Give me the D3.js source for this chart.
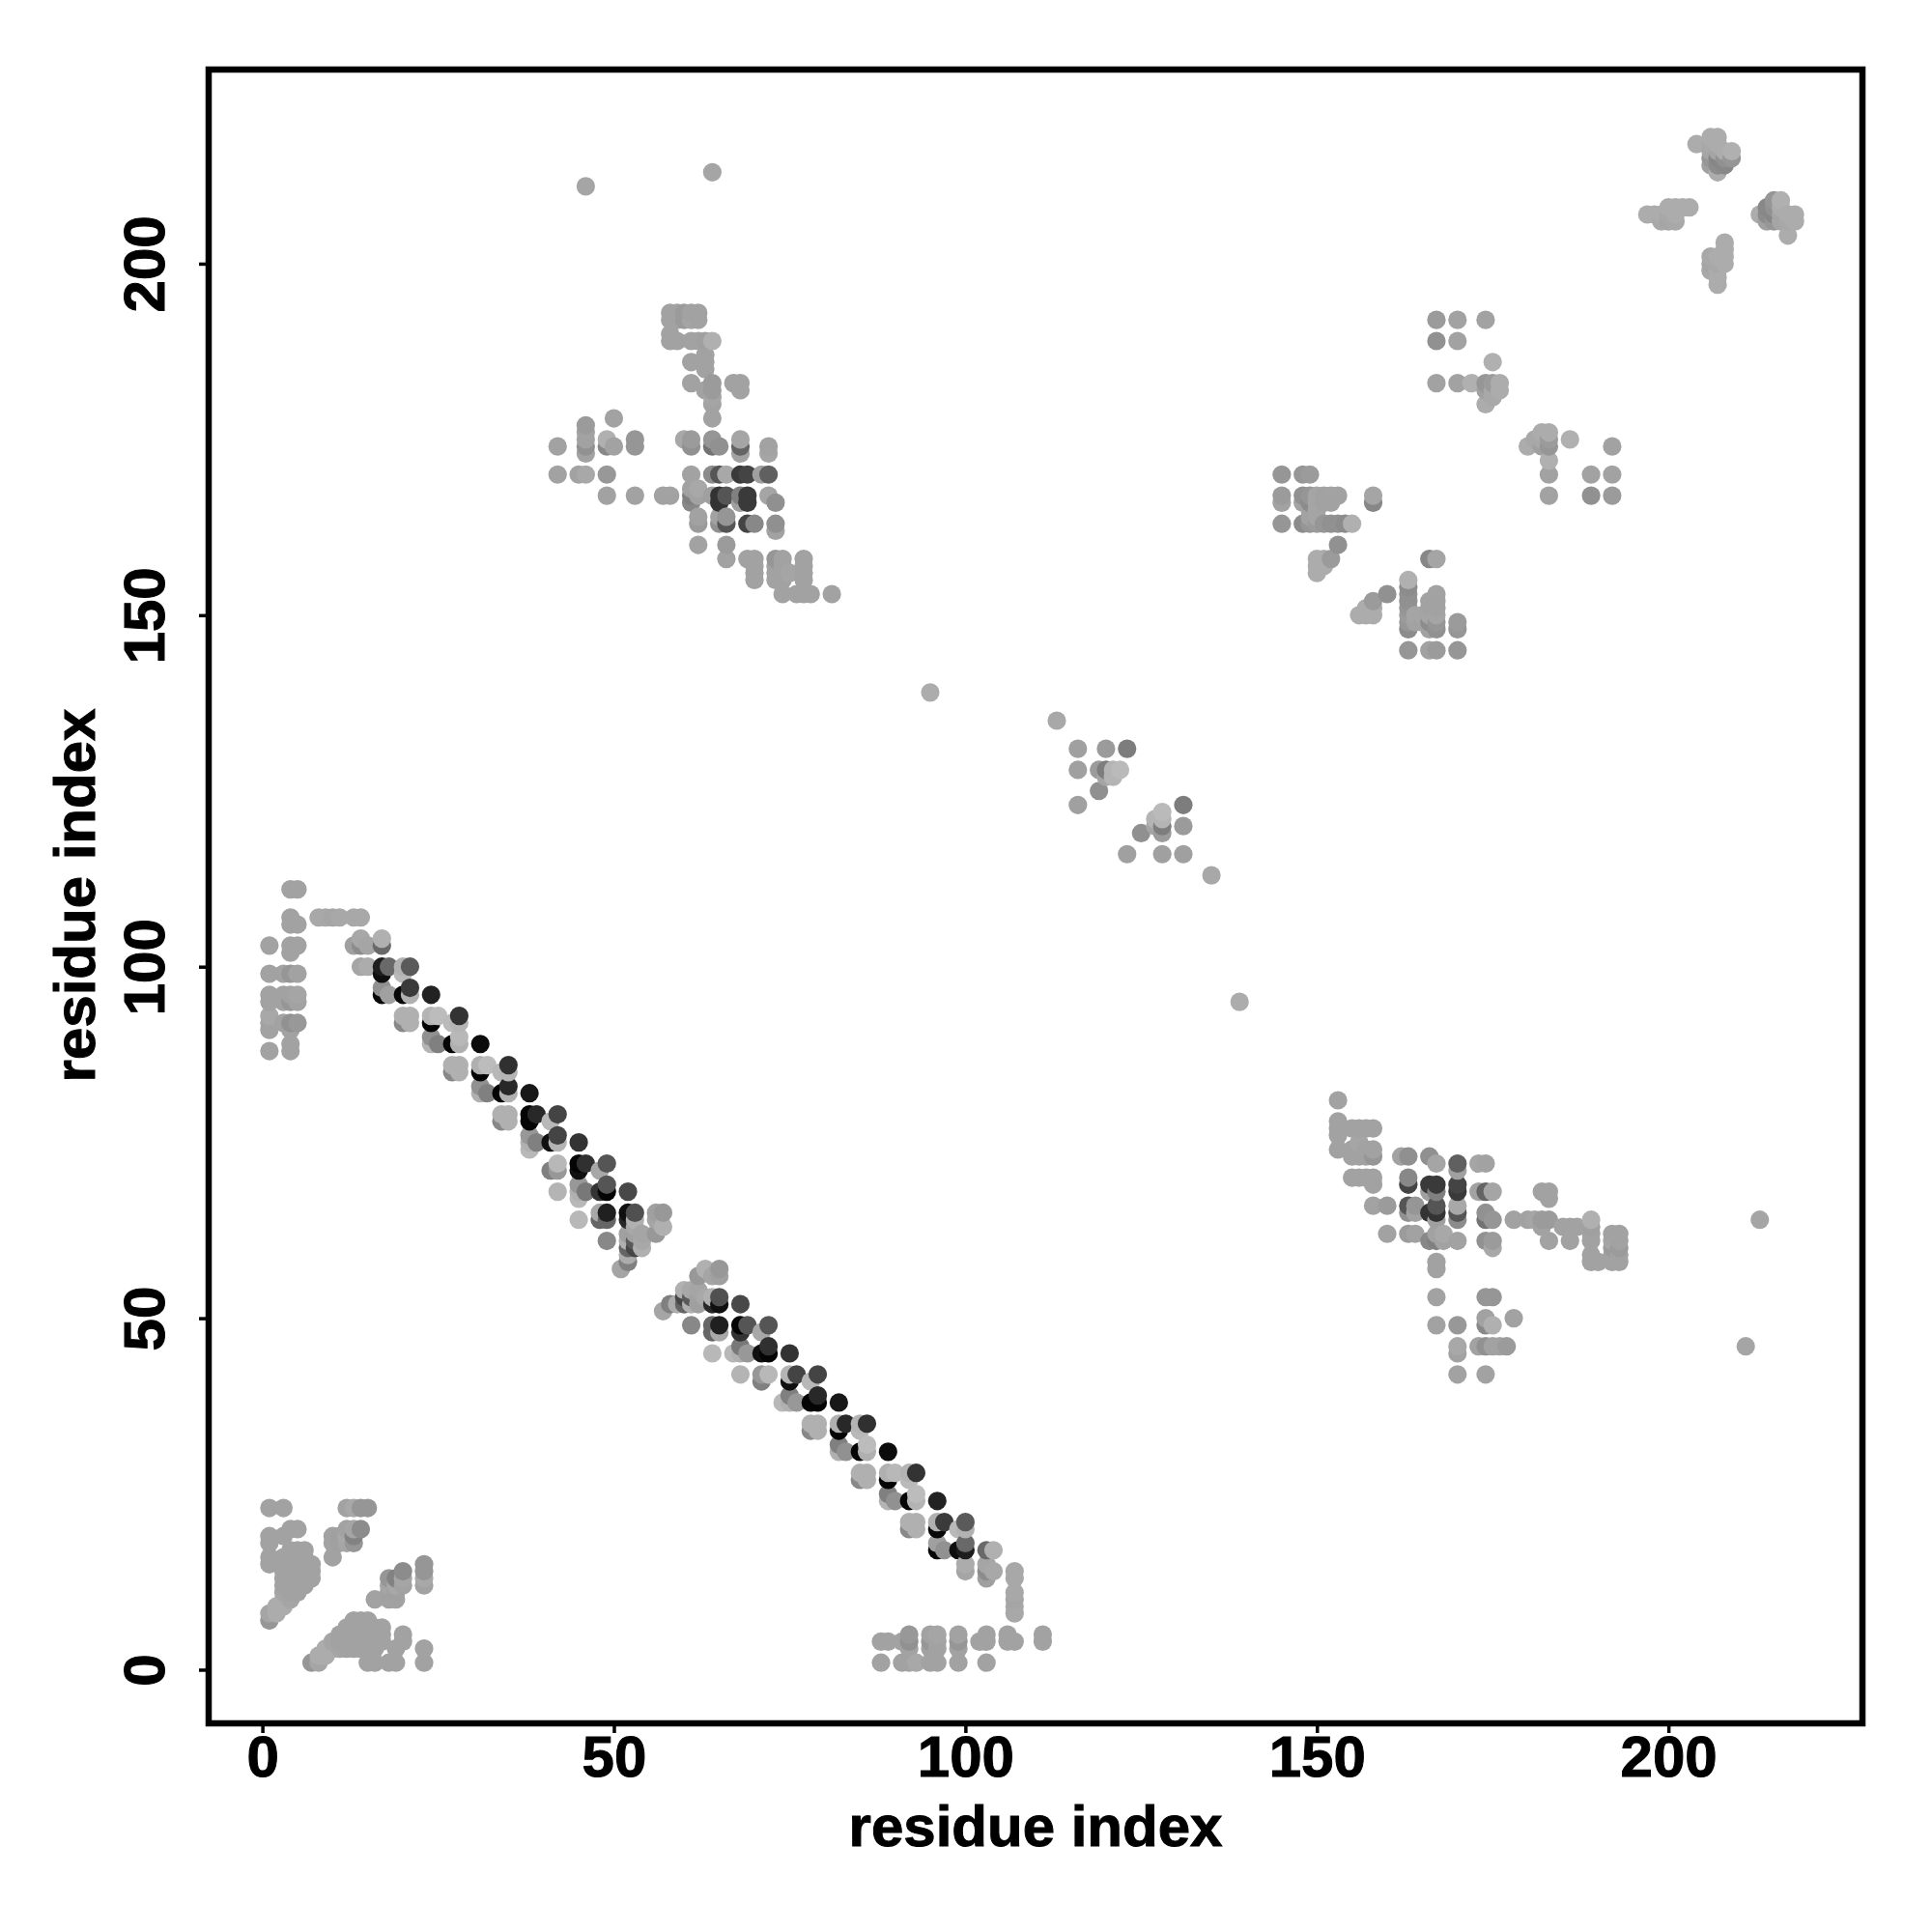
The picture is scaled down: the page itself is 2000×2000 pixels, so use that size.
<!DOCTYPE html>
<html>
<head>
<meta charset="utf-8">
<script src="https://cdn.jsdelivr.net/npm/d3@7"></script>
<style>html,body{margin:0;padding:0;background:#fff}svg{display:block}</style>
</head>
<body>
<svg id="chart" width="2000" height="2000"></svg>
<script>
// Contacts are [residue i, residue j, grey level]; the map is symmetric so each pair is listed once (i < j).
const tickLabels = [0, 50, 100, 150, 200];
const axisTitle = "residue index";
const G = 162;

const nTerminal = [
 [1,7,150],[1,8,165],[1,15,G],[1,16,G],[1,18,G],[1,19,G],[1,23,G],[2,8,172],[2,9,172],
 [3,9,172],[3,10,172],[3,11,165],[3,12,G],[3,13,G],[3,14,G],[3,15,G],[3,16,G],[3,19,G],[3,23,G],
 [4,10,165],[4,11,G],[4,12,G],[4,13,G],[4,14,G],[4,15,G],[4,16,G],[4,17,G],[4,20,G],
 [5,11,G],[5,12,G],[5,13,G],[5,14,G],[5,15,G],[5,16,G],[5,17,G],[5,20,G],
 [6,12,G],[6,13,G],[6,14,G],[6,15,G],[6,16,G],[6,17,G],[7,13,G],[7,14,G],[7,15,G],
 [10,16,G],[10,18,G],[10,19,G],[11,18,160],[11,19,160],[12,18,165],[12,19,168],[12,20,G],
 [12,23,G],[13,18,150],[13,19,130],[13,20,165],[13,23,168],[14,20,140],[14,23,150],[15,23,150]
];
const leftColumn = [
 [1,88,G],[1,91,G],[1,92,G],[1,93,168],[1,95,G],[1,96,G],[1,99,G],[1,103,G],
 [3,92,G],[3,95,G],[3,96,G],[3,99,G],
 [4,88,G],[4,89,G],[4,91,G],[4,92,145],[4,95,150],[4,96,G],[4,99,150],[4,102,G],[4,103,G],[4,106,G],[4,107,G],[4,111,G],
 [5,92,152],[5,95,G],[5,96,165],[5,99,G],[5,103,G],[5,106,G],[5,111,G],
 [8,107,168],[9,107,168],[10,107,165],[11,107,168],[13,107,168],[14,107,168]
];
const helixBand = [
 [14,104,168],[17,104,176],[13,103,160],[14,103,140],[15,103,165],[17,103,105],
 [14,100,165],[15,100,172],[17,100,30],[18,100,105],[20,100,178],[21,100,90],
 [17,99,15],[20,99,185],[17,97,145],[21,97,58],
 [17,96,8],[18,96,160],[20,96,8],[21,96,176],[24,96,34],
 [20,93,176],[21,93,176],[24,93,180],[25,93,188],[28,93,51],
 [20,92,136],[21,92,176],[24,92,5],[27,92,186],[28,92,180],
 [24,90,145],[28,90,184],[24,89,180],[25,89,128],[27,89,5],[28,89,176],[31,89,12],
 [27,86,176],[28,86,176],[31,86,176],[32,86,188],[35,86,48],
 [27,85,136],[28,85,176],[31,85,5],[34,85,184],[35,85,180],
 [31,83,145],[35,83,40],[31,82,176],[32,82,128],[34,82,5],[35,82,176],[38,82,24],
 [34,79,176],[35,79,176],[38,79,5],[39,79,40],[42,79,68],
 [34,78,136],[35,78,176],[38,78,5],[41,78,184],
 [38,76,152],[42,76,68],[38,75,176],[39,75,128],[41,75,16],[42,75,180],[45,75,51],[38,74,184],
 [42,72,184],[45,72,5],[46,72,48],[49,72,85],
 [41,71,128],[42,71,152],[45,71,16],[48,71,168],[45,69,152],[49,69,85],
 [42,68,180],[45,68,176],[46,68,120],[48,68,51],[49,68,5],[52,68,72],[45,67,184],
 [48,65,168],[49,65,32],[52,65,16],[53,65,80],[56,65,160],[57,65,152],
 [45,64,184],[48,64,102],[49,64,102],[52,64,40],[53,64,176],[56,64,165],
 [53,63,168],[57,63,176],[52,62,160],[53,62,160],[54,62,165],[56,62,152],
 [49,61,136],[52,61,176],[53,61,90],[54,61,168],[52,60,100],[53,60,70],[54,60,176],
 [52,59,172],[52,58,128],[51,57,165]
];
const loopContacts = [
 [58,193,G],[59,193,G],[60,193,155],[61,193,G],[62,193,G],[58,192,G],[59,192,G],[60,192,155],[61,192,165],[62,192,G],
 [58,190,G],[58,189,G],[59,189,G],[61,189,G],[62,189,G],[63,189,160],[64,189,176],
 [61,186,G],[63,187,G],[63,186,G],[63,185,G],[61,183,G],[64,183,155],[63,182,G],[64,182,155],
 [67,183,G],[68,183,G],[68,182,G],[64,181,165],[64,180,G],[64,178,G],
 [50,178,G],[46,177,155],[46,176,G],[46,175,G],[49,175,176],[53,175,150],[42,174,G],[46,174,145],[49,174,136],[50,174,G],[53,174,150],[46,173,G],
 [42,170,G],[45,170,G],[46,170,168],[49,170,152],[49,167,G],[53,167,G]
];
const betaCore = [
 [60,175,168],[61,175,155],[61,174,145],[64,175,150],[64,174,115],[65,174,145],[68,175,165],[68,174,100],[68,173,G],[72,174,G],[72,173,165],
 [61,170,G],[64,170,140],[65,170,85],[66,170,168],[68,170,58],[69,170,68],[71,170,160],[72,170,96],
 [57,167,G],[58,167,G],[61,168,G],[62,168,168],[61,167,128],[62,167,G],[64,167,160],[65,167,51],[66,167,85],[68,167,128],[69,167,58],[72,167,165],
 [61,166,136],[65,166,51],[68,166,160],[69,166,58],[73,166,144],
 [62,164,G],[65,164,G],[66,164,150],[62,163,155],[65,163,145],[66,163,85],[69,163,68],[70,163,136],[73,163,144],[73,162,G],
 [62,160,G],[66,160,155],[66,158,G],[69,158,G],[70,158,G],[73,158,150],[74,158,G],[77,158,G],
 [70,157,G],[73,157,G],[74,157,G],[77,157,G],[70,156,G],[73,156,G],[74,156,G],[75,156,165],[77,156,G],[70,155,G],[73,155,G],[74,155,G],[77,155,G],
 [74,153,G],[76,153,G],[77,153,G],[78,153,G],[81,153,G]
];
const sheetContacts = [
 [145,170,150],[148,170,150],[149,170,155],[145,167,155],[148,167,145],[149,167,150],[150,167,165],[151,167,G],[152,167,G],[153,167,G],[158,167,165],
 [145,166,G],[148,166,G],[149,166,140],[150,166,165],[151,166,G],[152,166,G],[158,166,135],
 [149,165,G],[150,165,165],[149,164,G],[150,164,165],
 [145,163,150],[148,163,140],[149,163,150],[150,163,155],[151,163,150],[152,163,145],[153,163,145],[154,163,140],[155,163,176],
 [153,160,145],[150,158,172],[151,158,172],[152,158,155],[150,157,172],[151,157,172],[150,156,172],
 [167,192,155],[170,192,G],[174,192,G],[167,189,145],[170,189,G],[175,186,176],
 [167,183,G],[170,183,G],[172,183,176],[174,183,150],[175,183,155],[176,183,172],[174,182,160],[175,182,168],[176,182,172],[175,181,168],[174,180,172]
];
const hairpin = [
 [113,135,168],[116,131,160],[120,131,155],[123,131,125],[116,128,160],[119,128,155],[120,128,125],[121,128,180],[122,128,186],
 [120,127,165],[121,127,180],[119,125,144],[116,123,160]
];
const cornerContacts = [
 [197,207,172],[198,207,172],[199,207,172],[199,206,168],[200,206,165],[201,206,168],[200,207,168],[201,207,172],[200,208,172],[201,208,172],[202,208,172],[203,208,172],
 [204,217,172],[206,218,172],[207,218,172],[206,217,168],[207,217,172],[206,216,165],[207,216,165],[208,216,172],[209,216,176],
 [206,215,150],[207,215,135],[208,215,145],[209,215,150],[206,214,160],[207,214,140],[208,214,136],[207,213,172]
];
const isolated = [[46,211,165],[64,213,165],[95,139,172]];

const contacts = [nTerminal,leftColumn,helixBand,loopContacts,betaCore,sheetContacts,hairpin,cornerContacts,isolated]
  .flat()
  .flatMap(([i,j,g]) => [{x:i,y:j,g},{x:j,y:i,g}])
  .sort((a,b) => d3.ascending(a.x,b.x) || d3.ascending(a.y,b.y));

const x = d3.scaleLinear().domain([-7.64,227.6]).range([216,1928]);
const y = d3.scaleLinear().domain([-7.74,227.5]).range([1784.8,72.8]);
const svg = d3.select("#chart");
const font = "'Liberation Sans', Arial, sans-serif";

svg.append("g").selectAll("circle").data(contacts).join("circle")
  .attr("cx", d => x(d.x)).attr("cy", d => y(d.y)).attr("r", 9.6)
  .attr("fill", d => d3.rgb(d.g,d.g,d.g));

const bottom = svg.append("g").attr("transform","translate(0,1784)")
  .call(d3.axisBottom(x).tickValues(tickLabels).tickSize(10).tickPadding(6).tickFormat(d3.format("d")));
const left = svg.append("g").attr("transform","translate(216,0)")
  .call(d3.axisLeft(y).tickValues(tickLabels).tickSize(10).tickPadding(6).tickFormat(d3.format("d")));
[bottom,left].forEach(g => {
  g.select(".domain").remove();
  g.selectAll("line").attr("stroke","#000").attr("stroke-width",3.5);
  g.selectAll("text").attr("fill","#000").attr("stroke","#000").attr("stroke-width",1)
    .attr("font-family",font).attr("font-weight","bold").attr("font-size",60);
});
bottom.selectAll("text").attr("y",null).attr("dy",null).attr("text-anchor","middle")
  .attr("transform","translate(0,55)");
left.selectAll("text").attr("x",null).attr("dy",null).attr("text-anchor","middle")
  .attr("transform","translate(-46,0) rotate(-90)");

svg.append("rect").attr("x",216).attr("y",72).attr("width",1712).attr("height",1712)
  .attr("fill","none").attr("stroke","#000").attr("stroke-width",6.5);

svg.append("text").text(axisTitle).attr("x",1072).attr("y",1911).attr("text-anchor","middle")
  .attr("font-family",font).attr("font-weight","bold").attr("font-size",60).attr("fill","#000").attr("stroke","#000").attr("stroke-width",1);
svg.append("text").text(axisTitle).attr("transform","translate(98,927) rotate(-90)").attr("text-anchor","middle")
  .attr("font-family",font).attr("font-weight","bold").attr("font-size",60).attr("fill","#000").attr("stroke","#000").attr("stroke-width",1);
</script>
</body>
</html>
